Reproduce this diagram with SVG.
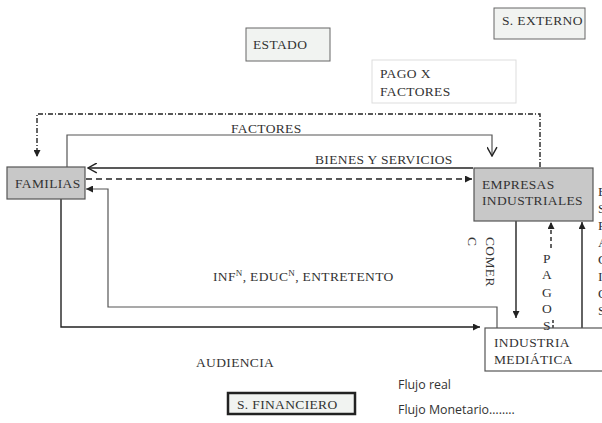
<svg xmlns="http://www.w3.org/2000/svg" width="602" height="423" viewBox="0 0 602 423">
<style>
text{font-family:"Liberation Serif","Times New Roman",serif;font-size:13.5px;fill:#333;letter-spacing:0.35px}
.sans{font-family:"Open Sans","Liberation Sans",sans-serif;font-size:12.4px;fill:#333;letter-spacing:0}
.box{fill:#f1f3f1;stroke:#666;stroke-width:1}
.gbox{fill:#c8c8c8;stroke:#555;stroke-width:1.2}
.ln{fill:none;stroke:#555;stroke-width:1.2}
.dk{fill:none;stroke:#222;stroke-width:1.4}
</style>
<defs>
<marker id="fa" viewBox="0 0 10 10" refX="10" refY="5" markerWidth="7" markerHeight="7" markerUnits="userSpaceOnUse" orient="auto"><path d="M0,0L10,5L0,10z" fill="#222"/></marker>
<marker id="oa" viewBox="0 0 10 10" refX="9" refY="5" markerWidth="11" markerHeight="11" markerUnits="userSpaceOnUse" orient="auto"><path d="M1,0.5L9,5L1,9.5" fill="none" stroke="#222" stroke-width="1.3"/></marker>
</defs>
<rect width="602" height="423" fill="#fff"/>
<g id="connectors">
<path class="dk" d="M540,167V114H37V157" stroke-dasharray="5 2 1 2" marker-end="url(#fa)"/>
<path class="ln" d="M67,167V135H492V156" marker-end="url(#oa)"/>
<path class="dk" d="M473,168H88" marker-end="url(#oa)"/>
<path class="dk" d="M86,179H472" stroke-dasharray="6 4" marker-end="url(#fa)"/>
<path class="ln" d="M497,328V307H108V189H86" marker-end="url(#fa)"/>
<path class="dk" d="M61,199V327H480" marker-end="url(#fa)"/>
<path class="dk" d="M516,221V318" marker-end="url(#fa)"/>
<path class="dk" d="M582,328V222" marker-end="url(#fa)"/>
<path class="dk" d="M551,248V222" stroke-dasharray="4 3" marker-end="url(#fa)"/>
<path class="dk" d="M553,320V328" stroke-dasharray="3 2"/>
</g>
<g id="estado"><rect class="box" x="246" y="28" width="84" height="33"/><text x="253" y="49">ESTADO</text></g>
<g id="s-externo"><rect class="box" x="494" y="8" width="91" height="31"/><text x="502" y="25">S. EXTERNO</text></g>
<g id="pago-factores"><rect x="372" y="60" width="144" height="43" fill="#fff" stroke="#ddd"/><text x="380" y="78">PAGO X</text><text x="380" y="96">FACTORES</text></g>
<g id="familias"><rect class="gbox" x="7" y="167" width="78" height="32"/><text x="15" y="188">FAMILIAS</text></g>
<g id="empresas"><rect class="gbox" x="474" y="168" width="119" height="53"/><text x="482" y="189">EMPRESAS</text><text x="482" y="205">INDUSTRIALES</text></g>
<g id="industria"><rect x="485" y="328" width="130" height="43" fill="#fff" stroke="#555" stroke-width="1.2"/><text x="494" y="347">INDUSTRIA</text><text x="494" y="364">MEDIÁTICA</text></g>
<g id="s-financiero"><rect x="228" y="393" width="127" height="21" fill="#f1f3f1" stroke="#222" stroke-width="2.5"/><text x="237" y="409">S. FINANCIERO</text></g>
<g id="labels">
<text x="231" y="133">FACTORES</text>
<text x="315" y="164">BIENES Y SERVICIOS</text>
<text x="213" y="281">INF<tspan font-size="9" dy="-5">N</tspan><tspan dy="5">, EDUC</tspan><tspan font-size="9" dy="-5">N</tspan><tspan dy="5">, ENTRETENTO</tspan></text>
<text x="196" y="367">AUDIENCIA</text>
<g transform="translate(486,237) rotate(90)"><text x="0" y="0">COMER</text><text x="0" y="18">C</text></g>
<g text-anchor="middle"><text x="547" y="263">P</text><text x="547" y="279">A</text><text x="547" y="297">G</text><text x="547" y="313">O</text><text x="547" y="330">S</text></g>
<text x="598" y="196">E</text><text x="598" y="213">S</text><text x="598" y="230">P</text><text x="598" y="247">A</text><text x="598" y="264">C</text><text x="598" y="281">I</text><text x="598" y="298">O</text><text x="598" y="315">S</text>
<text class="sans" x="398" y="389">Flujo real</text>
<text class="sans" x="398" y="414">Flujo Monetario……..</text>
</g>
</svg>
